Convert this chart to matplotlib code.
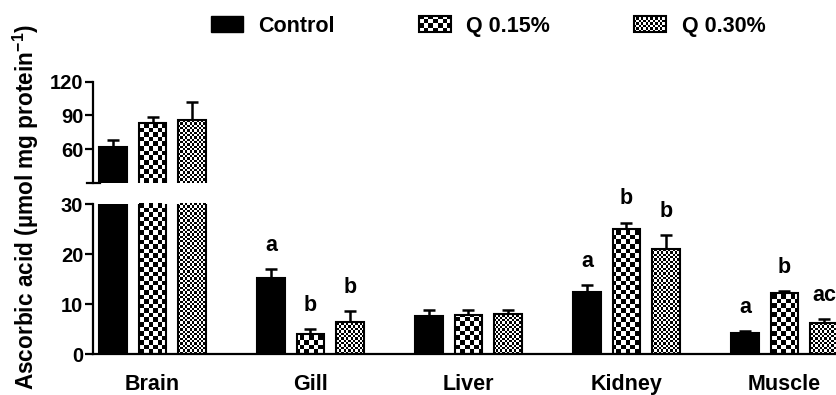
import numpy as np
import matplotlib
matplotlib.use("Agg")
import matplotlib.pyplot as plt
from matplotlib.patches import Rectangle
from matplotlib.legend_handler import HandlerBase
from matplotlib.image import BboxImage
from matplotlib.transforms import Bbox, TransformedBbox
from matplotlib.colors import Normalize

plt.rcParams["font.family"] = ["Liberation Sans", "DejaVu Sans"]
plt.rcParams["font.weight"] = "bold"
plt.rcParams["mathtext.fontset"] = "custom"
plt.rcParams["mathtext.rm"] = "Liberation Sans:bold"
plt.rcParams["mathtext.default"] = "rm"

categories = ["Brain", "Gill", "Liver", "Kidney", "Muscle"]
series = ["Control", "Q 0.15%", "Q 0.30%"]
control = [61.8, 15.2, 7.7, 12.4, 4.2]
control_err = [6.5, 1.9, 1.1, 1.5, 0.5]
q015 = [83.1, 4.1, 7.8, 25.0, 12.2]
q015_err = [5.9, 1.0, 1.0, 1.3, 0.4]
q030 = [86.0, 6.4, 8.1, 21.0, 6.2]
q030_err = [16.3, 2.3, 0.7, 2.9, 0.9]
letters_control = ["", "a", "", "a", "a"]
letters_q015 = ["", "b", "", "b", "b"]
letters_q030 = ["", "b", "", "b", "ac"]

values = [control, q015, q030]
errors = [control_err, q015_err, q030_err]
letters = [letters_control, letters_q015, letters_q030]
cells = [None, 4.6, 2.3]          # checker square size in px (None = solid black)

W, H = 836, 395
fig = plt.figure(figsize=(W / 100, H / 100), dpi=100)
L = 93 / W
ax_lo = fig.add_axes([L, 40.7 / H, 1 - L, 150.3 / H])
ax_hi = fig.add_axes([L, 212 / H, 1 - L, 101.3 / H])


def checker(nx, ny):
    return (np.indices((ny, nx)).sum(0) % 2).astype(float)


x = np.arange(len(categories))
offs = [-0.25, 0.0, 0.25]
bw = 0.177

for ax, (y0, y1), hpx in [(ax_lo, (0, 30), 150.3), (ax_hi, (30, 120), 101.3)]:
    wpx = (1 - L) * W
    for k in range(3):
        fc = "black" if cells[k] is None else "none"
        bars = ax.bar(x + offs[k], values[k], width=bw, color=fc, edgecolor="black",
                      linewidth=1.5, zorder=3)
        ax.errorbar(x + offs[k], values[k], yerr=[np.zeros(5), errors[k]], fmt="none",
                    ecolor="black", elinewidth=1.8, capsize=4, capthick=1.8, zorder=2)
        if cells[k] is not None:
            arr = checker(int(round(wpx / cells[k])), int(round(hpx / cells[k])))
            for b in bars:
                im = ax.imshow(arr, cmap="gray", vmin=0, vmax=1, interpolation="nearest",
                               extent=(0, 1, 0, 1), transform=ax.transAxes,
                               aspect="auto", zorder=2.5)
                im.set_clip_path(b)
    ax.set_xlim(-0.3766, 4.326)
    ax.set_ylim(y0, y1)
    for s in ["top", "right"]:
        ax.spines[s].set_visible(False)
    ax.spines["left"].set_linewidth(1.6)
    ax.tick_params(axis="y", length=6, width=1.6, pad=1, labelsize=14.5)

ax_lo.spines["bottom"].set_linewidth(1.6)
ax_lo.set_yticks([0, 10, 20, 30])
ax_lo.set_xticks(x)
ax_lo.set_xticklabels(categories, fontsize=15.5, fontweight="bold")
ax_lo.tick_params(axis="x", length=0, pad=14)

ax_hi.spines["bottom"].set_visible(False)
ax_hi.set_xticks([])
ax_hi.set_yticks([60, 90, 120])
ax_hi.plot([-6 / 743, 7 / 743], [0, 0], color="black", lw=1.6,
           transform=ax_hi.transAxes, clip_on=False)

# significance letters
for k in range(3):
    for i in range(5):
        if letters[k][i]:
            ax_lo.annotate(letters[k][i], (x[i] + offs[k], values[k][i] + errors[k][i]),
                           xytext=(0, 13), textcoords="offset points", ha="center",
                           va="baseline", fontsize=15.5, fontweight="bold",
                           annotation_clip=False)

fig.text(26 / W, 0.475, "Ascorbic acid (µmol mg protein$^{-1}$)", rotation=90,
         ha="center", va="center", fontsize=16.3, fontweight="bold")


class CheckerHandler(HandlerBase):
    def __init__(self, cell):
        super().__init__()
        self.cell = cell

    def create_artists(self, legend, orig_handle, xdescent, ydescent, width, height,
                       fontsize, trans):
        bb = TransformedBbox(Bbox.from_bounds(-xdescent, -ydescent, width, height), trans)
        img = BboxImage(bb, cmap="gray", norm=Normalize(0, 1), interpolation="nearest")
        img.set_data(checker(int(round(32 / self.cell)), int(round(17 / self.cell))))
        rect = Rectangle((-xdescent, -ydescent), width, height, facecolor="none",
                         edgecolor="black", linewidth=1.5, transform=trans)
        return [img, rect]


h0 = Rectangle((0, 0), 1, 1, facecolor="black", edgecolor="black")
h1 = Rectangle((0, 0), 1, 1)
h2 = Rectangle((0, 0), 1, 1)
fig.legend([h0, h1, h2], series, loc="center", bbox_to_anchor=(0.584, 0.934),
           ncol=3, frameon=False, handlelength=1.5, handleheight=0.8,
           handletextpad=0.7, columnspacing=3.9, borderpad=0,
           handler_map={h1: CheckerHandler(cells[1]), h2: CheckerHandler(cells[2])},
           prop={"weight": "bold", "size": 15.5})

fig.savefig("out.png", dpi=100)
